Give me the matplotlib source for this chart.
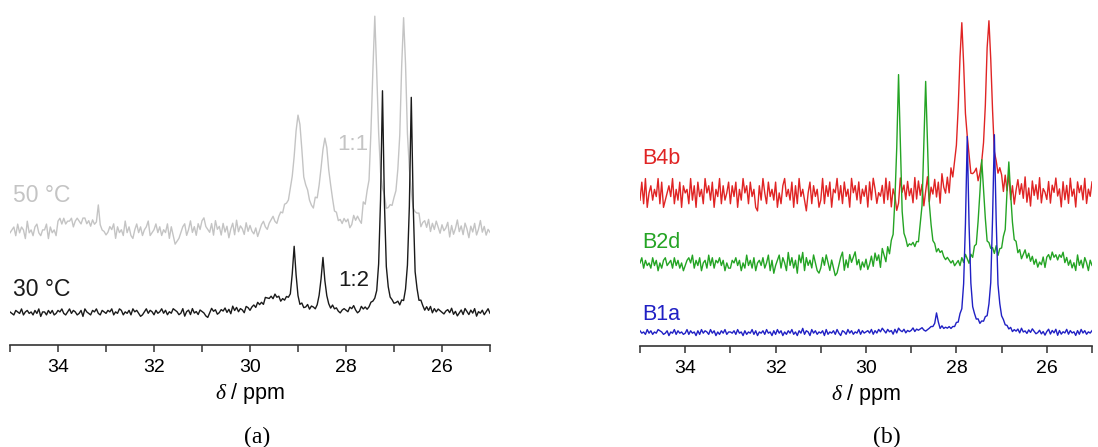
"""31P NMR spectra: (a) temperature series, (b) three samples."""

import matplotlib
matplotlib.use("Agg")
import matplotlib.pyplot as plt
import numpy as np

plt.rcParams.update({
    "font.family": ["Liberation Sans", "DejaVu Sans"],
    "mathtext.fontset": "custom",
    "mathtext.it": "Liberation Serif:italic",
    "mathtext.rm": "Liberation Sans",
})

# chemical shift axis, one point every 0.04 ppm
SHIFT = np.linspace(35.0, 25.0, 251)
MAJOR_TICKS = [34, 32, 30, 28, 26]
MINOR_TICKS = [35, 33, 31, 29, 27, 25]

# ----- panel (a): peaks as (shift / ppm, height / a.u., fwhm / ppm)
LABELS_A = ["50 °C", "30 °C"]
RATIOS_A = ["1:1", "1:2"]
PEAKS_50C = [(29.00, 112, 0.20), (28.44, 90, 0.18), (27.40, 207, 0.14),
             (26.80, 209, 0.14), (33.16, 22, 0.06)]
PEAKS_30C = [(29.08, 60, 0.09), (28.48, 56, 0.09), (27.24, 220, 0.08),
             (26.64, 212, 0.08), (29.50, 11, 0.60)]

# baseline noise, one digit per point (5 = zero)
NOISE_50C = ("4563746528453674355726453" "8979788968987997868656444"
             "3465726453846325746356834" "5746354726301246735846375"
             "8965473856374625738465374" "6435246754678657879878765"
             "5786897658677546787564546" "5634756428563756465674565"
             "6565657676456735647364753" "64572635846375264735846354")
NOISE_30C = ("5436547356453647255364634" "6574357465346275436574365"
             "4657354763546375642357465" "3645746354765347256374536"
             "5421475634657463857465376" "4675867598786978576864565"
             "4364574653465346547564356" "5476853475645765476545656"
             "5674635746536475364736465" "43564735246375364725463574")
NOISE_UNIT_A = [2.9, 1.5]

# ----- panel (b)
LABELS_B = ["B4b", "B2d", "B1a"]
PEAKS_B4B = [(27.88, 168, 0.14), (27.28, 170, 0.14)]
PEAKS_B2D = [(29.28, 187, 0.10), (28.68, 180, 0.10), (27.44, 102, 0.11),
             (26.84, 100, 0.11)]
PEAKS_B1A = [(27.76, 192, 0.09), (27.16, 195, 0.09), (28.44, 18, 0.06)]
NOISE_B4B = ("3829157364928135749263817" "5629371846295738164927358"
             "2748163957284610739528463" "8152794638172946305827461"
             "3927481659372846195738264" "7183962547293816402957384"
             "6293847159264837195372846" "6875568745673456895674658"
             "7384926158473926184739265" "38275946183729461857392648")
NOISE_B2D = ("5736453746253674563746352" "4675836472563847365746253"
             "3657462538463725647358261" "4683752947361859274638521"
             "3748526301479263857946253" "6247385729638475955645768"
             "8978697859897868786565453" "4536475364758657968786957"
             "6857568796857968574635473" "78697868795746352846375264")
NOISE_B1A = ("6453746354765346254736453" "4736452637465374625364735"
             "5463745263547362546374526" "3746253647352648365274635"
             "4627354637426537463547364" "5647364758647563748657465"
             "6857678656787657586767565" "7584657465768576857686758"
             "6756463546374536475346352" "57364726354736452637463546")
NOISE_UNIT_B = [3.6, 2.6, 1.2]

# ----- layout (a.u. offsets, one a.u. = one pixel)
OFFSETS_A = [115, 33]
OFFSETS_B = [153, 83, 14]
COLORS_A = ["#c4c4c4", "#1a1a1a"]
COLORS_B = ["#e02424", "#24a424", "#2020c4"]


def spectrum(peaks, noise, unit):
    y = np.array([(int(c) - 5) * unit for c in noise], dtype=float)
    for pos, height, fwhm in peaks:
        y += height / (1 + ((SHIFT - pos) / (fwhm / 2)) ** 2)
    return y


def style_axis(ax, top):
    ax.set_xlim(35, 25)
    ax.set_ylim(0, top)
    for side in ("left", "right", "top"):
        ax.spines[side].set_visible(False)
    ax.spines["bottom"].set_color("#333333")
    ax.spines["bottom"].set_linewidth(1.2)
    ax.set_yticks([])
    ax.set_xticks(MAJOR_TICKS)
    ax.set_xticks(MINOR_TICKS, minor=True)
    ax.tick_params(axis="x", which="major", length=5, width=1.1,
                   color="#333333", labelsize=14, pad=5)
    ax.tick_params(axis="x", which="minor", length=5, width=1.1,
                   color="#333333")
    ax.set_xlabel(r"$\delta$ / ppm", fontsize=15.5, labelpad=4)
    ax.patch.set_alpha(0)


fig = plt.figure(figsize=(10.98, 4.47), dpi=100)

# ============================================================ panel (a)
ax_a = fig.add_axes([10 / 1098, 102 / 447, 480 / 1098, 345 / 447])
style_axis(ax_a, 345)
traces_a = [spectrum(PEAKS_50C, NOISE_50C, NOISE_UNIT_A[0]),
            spectrum(PEAKS_30C, NOISE_30C, NOISE_UNIT_A[1])]
for y, off, c in zip(traces_a, OFFSETS_A, COLORS_A):
    ax_a.plot(SHIFT, y + off, color=c, lw=1.0)
ax_a.text(34.94, 150, LABELS_A[0], color=COLORS_A[0], fontsize=16.5,
          va="center", ha="left")
ax_a.text(34.94, 55, LABELS_A[1], color=COLORS_A[1], fontsize=16.5,
          va="center", ha="left")
ax_a.text(28.19, 200, RATIOS_A[0], color=COLORS_A[0], fontsize=16,
          va="center", ha="left")
ax_a.text(28.17, 65, RATIOS_A[1], color=COLORS_A[1], fontsize=16,
          va="center", ha="left")

# ============================================================ panel (b)
ax_b = fig.add_axes([640 / 1098, 101 / 447, 452 / 1098, 346 / 447])
style_axis(ax_b, 346)
traces_b = [spectrum(PEAKS_B4B, NOISE_B4B, NOISE_UNIT_B[0]),
            spectrum(PEAKS_B2D, NOISE_B2D, NOISE_UNIT_B[1]),
            spectrum(PEAKS_B1A, NOISE_B1A, NOISE_UNIT_B[2])]
label_y = [188, 103, 31]
for y, off, c, lab, ly in zip(traces_b, OFFSETS_B, COLORS_B, LABELS_B,
                              label_y):
    ax_b.plot(SHIFT, y + off, color=c, lw=1.0)
    ax_b.text(34.96, ly, lab, color=c, fontsize=15.5, va="center",
              ha="left")

fig.text(257 / 1098, 1 - 437 / 447, "(a)", family="Liberation Serif",
         fontsize=17, ha="center", va="center")
fig.text(887 / 1098, 1 - 437 / 447, "(b)", family="Liberation Serif",
         fontsize=17, ha="center", va="center")

fig.savefig("out.png", dpi=100)
